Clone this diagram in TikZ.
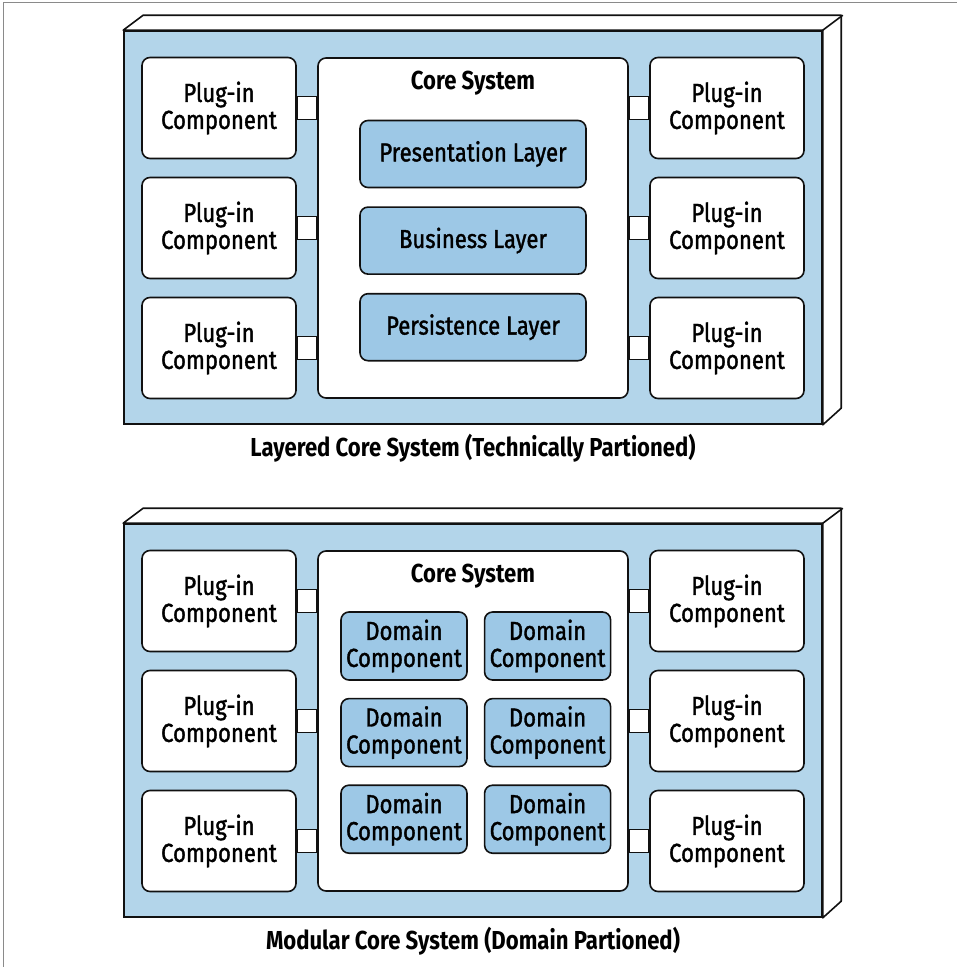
\documentclass[tikz,border=0pt]{standalone}
\usepackage{fontspec}
\setmainfont{Fira Sans}[FakeStretch=0.85]
\newfontfamily\boxfont{Fira Sans}[FakeStretch=0.85,FakeBold=1.4]
\usetikzlibrary{positioning}
\definecolor{ink}{HTML}{111111}
\definecolor{baseBg}{HTML}{B3D5EA}
\definecolor{partBg}{HTML}{9DC8E6}
\definecolor{frameGray}{HTML}{8A8A8A}
\tikzset{
  basebox/.style={draw=ink,line width=1.6pt,fill=baseBg,minimum width=698pt,
    minimum height=393pt,inner sep=0pt},
  face/.style={draw=ink,line width=1.6pt,fill=white,line join=round},
  plugin/.style={draw=ink,line width=1.6pt,fill=white,rounded corners=8pt,
    minimum width=154pt,minimum height=101pt,align=center,inner sep=0pt,
    font=\boxfont\fontsize{26}{27}\selectfont},
  corebox/.style={plugin,minimum width=310pt,minimum height=340pt},
  layerbox/.style={plugin,fill=partBg,minimum width=226pt,minimum height=67pt},
  domainbox/.style={layerbox,minimum width=126pt,minimum height=68pt},
  link/.style={draw=ink,line width=1.6pt,fill=white},
  title/.style={font=\bfseries\fontsize{26}{28}\selectfont}}

\begin{document}
\begin{tikzpicture}[x=1pt,y=-1pt]
  \useasboundingbox (0,0) rectangle (957,967);
  \draw[frameGray,line width=1pt] (3,967) -- (3,2) -- (957,2);

  % layered core system
  \node[basebox] (baseA) at (473,227.5) {};
  \draw[face] (baseA.north west) -- ++(20,-15) -- ++(698,0) -- ++(0,393)
    -- (baseA.south east) -- (baseA.north east) -- cycle;
  \draw[face] (baseA.north east) -- ++(20,-15);
  \node[corebox] (coreA) at (473,228) {};
  \node[title] (coreAt) at ([yshift=-26pt]coreA.north) {Core System};
  \node[layerbox] (presA) at (473,154) {Presentation Layer};
  \node[layerbox,below=18pt of presA] (busA) {Business Layer};
  \node[layerbox,below=18pt of busA] (persA) {Persistence Layer};
  \foreach \r/\y in {1/108,2/228,3/348}{
    \node[plugin] (plA\r) at (219,\y) {Plug-in\\Component};
    \node[plugin] (prA\r) at (727,\y) {Plug-in\\Component};
    \coordinate (cA\r) at (plA\r.east -| coreA.west);
    \coordinate (dA\r) at (prA\r.west -| coreA.east);
    \draw[link] ([yshift=11.5pt]plA\r.east) rectangle ([yshift=-11.5pt]cA\r);
    \draw[link] ([yshift=11.5pt]dA\r) rectangle ([yshift=-11.5pt]prA\r.west);
  }
  \node[title] (capA) at (473,448) {Layered Core System (Technically Partioned)};

  % modular core system
  \node[basebox] (baseB) at (473,720.5) {};
  \draw[face] (baseB.north west) -- ++(20,-15) -- ++(698,0) -- ++(0,393)
    -- (baseB.south east) -- (baseB.north east) -- cycle;
  \draw[face] (baseB.north east) -- ++(20,-15);
  \node[corebox] (coreB) at (473,721) {};
  \node[title] (coreBt) at ([yshift=-26pt]coreB.north) {Core System};
  \node[domainbox] (domB11) at (404,646) {Domain\\Component};
  \node[domainbox,right=16pt of domB11] (domB12) {Domain\\Component};
  \node[domainbox,below=17pt of domB11] (domB21) {Domain\\Component};
  \node[domainbox,right=16pt of domB21] (domB22) {Domain\\Component};
  \node[domainbox,below=17pt of domB21] (domB31) {Domain\\Component};
  \node[domainbox,right=16pt of domB31] (domB32) {Domain\\Component};
  \foreach \r/\y in {1/601,2/721,3/841}{
    \node[plugin] (plB\r) at (219,\y) {Plug-in\\Component};
    \node[plugin] (prB\r) at (727,\y) {Plug-in\\Component};
    \coordinate (cB\r) at (plB\r.east -| coreB.west);
    \coordinate (dB\r) at (prB\r.west -| coreB.east);
    \draw[link] ([yshift=11.5pt]plB\r.east) rectangle ([yshift=-11.5pt]cB\r);
    \draw[link] ([yshift=11.5pt]dB\r) rectangle ([yshift=-11.5pt]prB\r.west);
  }
  \node[title] (capB) at (473,941) {Modular Core System (Domain Partioned)};
\end{tikzpicture}
\end{document}
